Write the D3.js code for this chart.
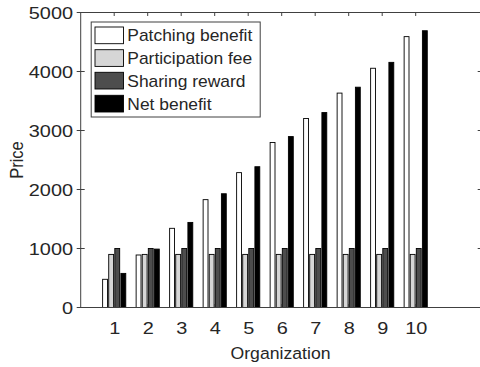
<!DOCTYPE html>
<html>
<head>
<meta charset="utf-8">
<script src="https://cdn.jsdelivr.net/npm/d3@7"></script>
<style>
  html, body { margin: 0; padding: 0; background: #fff; }
  svg { display: block; }
  text { font-family: "Liberation Sans", Arial, Helvetica, sans-serif; fill: #262626; }
</style>
</head>
<body>
<svg id="chart" width="480" height="367"></svg>
<script>
// ---- data ----
const organizations = [1, 2, 3, 4, 5, 6, 7, 8, 9, 10];
const seriesNames = ["Patching benefit", "Participation fee", "Sharing reward", "Net benefit"];
const patchingBenefit = [478, 890, 1342, 1828, 2286, 2797, 3204, 3634, 4055, 4591];
const participationFee = [900, 900, 900, 900, 900, 900, 900, 900, 900, 900];
const sharingReward = [1000, 1000, 1000, 1000, 1000, 1000, 1000, 1000, 1000, 1000];
const netBenefit = [578, 990, 1442, 1928, 2386, 2897, 3304, 3734, 4155, 4691];
const yTicks = [0, 1000, 2000, 3000, 4000, 5000];
const xTicks = [1, 2, 3, 4, 5, 6, 7, 8, 9, 10];
const seriesColors = ["#ffffff", "#d6d6d6", "#4d4d4d", "#000000"];

const series = [patchingBenefit, participationFee, sharingReward, netBenefit];

// ---- layout ----
const svg = d3.select("#chart");
const L = 80.7, R = 482.7, T = 12.5, B = 307.5;
const x = d3.scaleLinear().domain([0, 12]).range([L, R]);
const y = d3.scaleLinear().domain([0, 5000]).range([B, T]);

const nS = series.length;
const groupW = Math.min(0.8, nS / (nS + 1.5));
const step = groupW / nS;
const barW = step * 0.8;

// bars
series.forEach((vals, si) => {
  const off = (si - (nS - 1) / 2) * step;
  svg.append("g").selectAll("rect")
    .data(organizations.map((o, i) => ({ o, v: vals[i] })))
    .join("rect")
    .attr("x", d => x(d.o + off - barW / 2))
    .attr("width", x(barW) - x(0))
    .attr("y", d => y(d.v))
    .attr("height", d => y(0) - y(d.v))
    .attr("fill", seriesColors[si])
    .attr("stroke", "#000")
    .attr("stroke-width", 0.9);
});

const axisColor = "#404040";

// box
svg.append("rect")
  .attr("x", L).attr("y", T)
  .attr("width", R - L).attr("height", B - T)
  .attr("fill", "none").attr("stroke", axisColor).attr("stroke-width", 1);

// y axis (left)
const yAxis = svg.append("g")
  .attr("transform", `translate(${L},0)`)
  .call(d3.axisLeft(y).tickValues(yTicks).tickSizeInner(0).tickSizeOuter(0).tickPadding(0).tickFormat(d3.format("d")));
yAxis.select(".domain").remove();
yAxis.selectAll(".tick line").remove();
const ysx = 1.17;
yAxis.selectAll(".tick text")
  .attr("font-size", 17)
  .attr("font-family", "Liberation Sans, Arial, sans-serif")
  .attr("fill", "#262626")
  .attr("x", -7.7 / ysx)
  .attr("dy", "0.35em")
  .attr("transform", `scale(${ysx},1)`);
// left ticks crossing the axis
svg.append("g").selectAll("line").data(yTicks).join("line")
  .attr("x1", L - 4).attr("x2", L + 4)
  .attr("y1", d => y(d)).attr("y2", d => y(d))
  .attr("stroke", axisColor);
// right ticks inward
svg.append("g").selectAll("line").data(yTicks).join("line")
  .attr("x1", R - 5).attr("x2", R)
  .attr("y1", d => y(d)).attr("y2", d => y(d))
  .attr("stroke", axisColor);

// x axis (bottom)
const xAxis = svg.append("g")
  .attr("transform", `translate(0,${B})`)
  .call(d3.axisBottom(x).tickValues(xTicks).tickSizeInner(0).tickSizeOuter(0).tickPadding(0));
xAxis.select(".domain").remove();
xAxis.selectAll(".tick line").remove();
xAxis.selectAll(".tick text")
  .attr("font-size", 17)
  .attr("font-family", "Liberation Sans, Arial, sans-serif")
  .attr("fill", "#262626")
  .attr("y", 26.5)
  .attr("dy", 0)
  .attr("transform", `scale(1.17,1)`);
// top & bottom ticks inward
svg.append("g").selectAll("line").data(xTicks).join("line")
  .attr("x1", d => x(d)).attr("x2", d => x(d))
  .attr("y1", T).attr("y2", T + 3.5)
  .attr("stroke", axisColor);
svg.append("g").selectAll("line").data(xTicks).join("line")
  .attr("x1", d => x(d)).attr("x2", d => x(d))
  .attr("y1", B).attr("y2", B - 3.5)
  .attr("stroke", axisColor);

// axis labels
svg.append("text")
  .attr("transform", `translate(${(231 + 330) / 2},358.5) scale(1.07,1)`)
  .attr("text-anchor", "middle")
  .attr("font-size", 16.5)
  .text("Organization");
svg.append("text")
  .attr("transform", `translate(23.3,160) scale(1.13,1) rotate(-90)`)
  .attr("text-anchor", "middle")
  .attr("font-size", 16.5)
  .text("Price");

// legend
const lg = svg.append("g");
lg.append("rect")
  .attr("x", 91.2).attr("y", 22).attr("width", 169).attr("height", 95)
  .attr("fill", "#fff").attr("stroke", axisColor).attr("stroke-width", 1);
const rowY = [27, 49.7, 72.3, 95.3];
seriesNames.forEach((name, i) => {
  lg.append("rect")
    .attr("x", 95).attr("y", rowY[i]).attr("width", 28.5).attr("height", 16.7)
    .attr("fill", seriesColors[i]).attr("stroke", "#000").attr("stroke-width", 0.9);
  lg.append("text")
    .attr("transform", `translate(127.3,${rowY[i] + 14.3}) scale(1.09,1)`)
    .attr("font-size", 16)
    .text(name);
});
</script>
</body>
</html>
